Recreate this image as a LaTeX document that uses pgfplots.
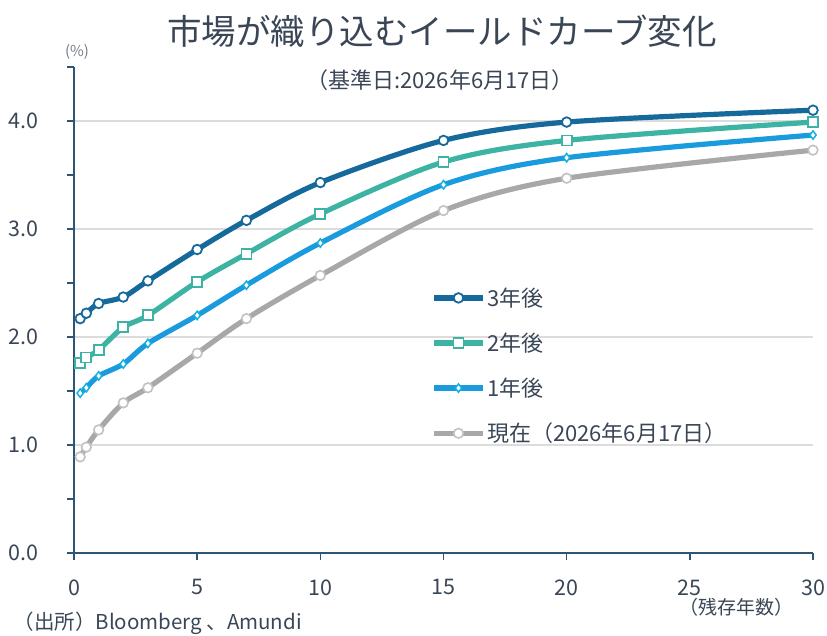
\documentclass[border=0pt]{standalone}
\usepackage{fontspec}
\setmainfont{Noto Sans CJK JP}
\usepackage{pgfplots}
\pgfplotsset{compat=1.18}

\definecolor{txt}{HTML}{3A4656}
\definecolor{axc}{HTML}{2E5573}
\definecolor{gridc}{HTML}{DCDCDC}
\definecolor{c3}{HTML}{16699B}
\definecolor{c2}{HTML}{3DB3A4}
\definecolor{c1}{HTML}{1A9BDD}
\definecolor{c0}{HTML}{A8A8A8}

\begin{document}
\begin{tikzpicture}[x=1pt,y=1pt]
\useasboundingbox (0,0) rectangle (827,636);

\begin{axis}[
  at={(74pt,83pt)}, anchor=south west,
  scale only axis, width=739pt, height=486pt,
  xmin=0, xmax=30, ymin=0, ymax=4.5,
  axis lines*=left,
  axis line style={axc, line width=1.4pt},
  xtick={0,5,...,30},
  ytick={0,1,2,3,4},
  minor ytick={0.5,1.5,2.5,3.5,4.5},
  tick align=outside,
  major tick length=7pt, minor tick length=7pt,
  tick style={axc, line width=1.4pt},
  ymajorgrids,
  grid style={gridc, line width=1.2pt},
  /pgf/number format/assume math mode=true,
  yticklabel style={/pgf/number format/fixed, /pgf/number format/fixed zerofill,
    /pgf/number format/precision=1},
  ticklabel style={font=\fontsize{21.5}{24}\selectfont, text=txt},
  xticklabel style={yshift=-16pt},
  yticklabel style={xshift=-25pt},
  legend cell align=left,
  legend style={at={(0.484,0.550)}, anchor=north west, draw=none, fill=none,
    font=\fontsize{22}{25}\selectfont, text=txt,
    row sep=21pt, inner sep=0pt},
  legend image code/.code={%
    \draw[#1, mark repeat=2, mark phase=2]
      plot coordinates {(0pt,0pt) (24pt,0pt) (48pt,0pt)};},
  every axis plot/.append style={line width=5.2pt, smooth, tension=0.5},
]

% 3 years forward
\addplot[c3, mark=*, mark size=4.8pt,
  mark options={fill=white, draw=c3, line width=1.8pt, solid}]
  coordinates {(0.25,2.17) (0.5,2.22) (1,2.31) (2,2.37) (3,2.52) (5,2.81)
               (7,3.08) (10,3.43) (15,3.82) (20,3.99) (30,4.10)};
\addlegendentry{3年後}

% 2 years forward
\addplot[c2, mark=square*, mark size=5pt,
  mark options={fill=white, draw=c2, line width=1.8pt, solid}]
  coordinates {(0.25,1.76) (0.5,1.81) (1,1.88) (2,2.09) (3,2.20) (5,2.51)
               (7,2.77) (10,3.14) (15,3.62) (20,3.82) (30,3.99)};
\addlegendentry{2年後}

% 1 year forward
\addplot[c1, mark=diamond*, mark size=4.2pt,
  mark options={fill=white, draw=c1!80!cyan, line width=1.5pt, solid}]
  coordinates {(0.25,1.48) (0.5,1.53) (1,1.64) (2,1.75) (3,1.94) (5,2.20)
               (7,2.48) (10,2.87) (15,3.41) (20,3.66) (30,3.87)};
\addlegendentry{1年後}

% current curve
\addplot[c0, mark=*, mark size=4.8pt,
  mark options={fill=white, draw=c0!70!white, line width=1.6pt, solid}]
  coordinates {(0.25,0.89) (0.5,0.98) (1,1.14) (2,1.39) (3,1.53) (5,1.85)
               (7,2.17) (10,2.57) (15,3.17) (20,3.47) (30,3.73)};
\addlegendentry{現在（2026年6月17日）}
\end{axis}

\node[text=txt, font=\fontsize{34.5}{38}\selectfont] at (442,605) {市場が織り込むイールドカーブ変化};
\node[text=txt, font=\fontsize{22}{25}\selectfont] at (440,556) {（基準日:2026年6月17日）};
\node[text=txt!70, font=\fontsize{15}{17}\selectfont] at (77,584) {(\%)};
\node[text=txt, font=\fontsize{19}{22}\selectfont] at (736,29) {（残存年数）};
\node[text=txt, font=\fontsize{20.5}{23}\selectfont, anchor=west] at (10,13) {（出所）Bloomberg 、Amundi};
\end{tikzpicture}
\end{document}
